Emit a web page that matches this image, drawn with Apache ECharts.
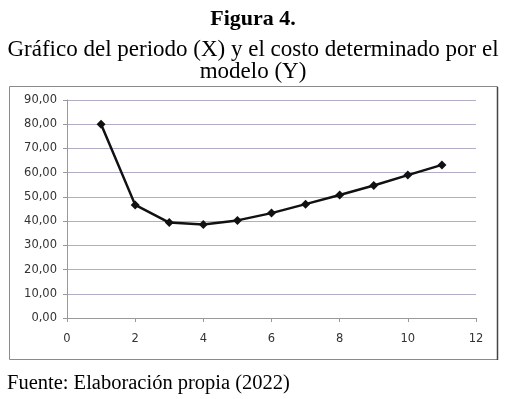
<!DOCTYPE html>
<html>
<head>
<meta charset="utf-8">
<script src="https://cdn.jsdelivr.net/npm/echarts@6/dist/echarts.min.js"></script>
<style>
  html, body { margin: 0; padding: 0; background: #fff; }
  #chart { width: 507px; height: 399px; }
</style>
</head>
<body>
<div id="chart"></div>
<script>
// periodo (X) y costo del modelo (Y)
var periodos = [1, 2, 3, 4, 5, 6, 7, 8, 9, 10, 11];
var costos = [80.0, 46.7, 39.4, 38.6, 40.3, 43.3, 47.0, 50.8, 54.7, 59.0, 63.2];

var puntos = [];
for (var i = 0; i < periodos.length; i++) {
    puntos.push([periodos[i], costos[i]]);
}

var chart = echarts.init(document.getElementById('chart'));
var serif = '"Liberation Serif", "Times New Roman", serif';
var option = {
    backgroundColor: '#fff',
    animation: false,
    title: [
        {
            text: 'Figura 4.',
            left: 248, top: 3, textAlign: 'center',
            textStyle: { fontFamily: serif, fontSize: 22, fontWeight: 'bold', color: '#000' }
        },
        {
            text: 'Gráfico del periodo (X) y el costo determinado por el\nmodelo (Y)',
            left: 248, top: 34, textAlign: 'center',
            textStyle: { fontFamily: serif, fontSize: 23, fontWeight: 'normal', color: '#000', lineHeight: 22 }
        },
        {
            text: 'Fuente: Elaboración propia (2022)',
            left: 2, top: 368,
            textStyle: { fontFamily: serif, fontSize: 20.5, fontWeight: 'normal', color: '#000' }
        }
    ],
    graphic: [
        {
            type: 'rect',
            shape: { x: 9.5, y: 86.5, width: 488, height: 273 },
            style: { fill: 'none', stroke: '#8a8a8a', lineWidth: 1 },
            z: -1
        },
        {
            type: 'line',
            shape: { x1: 497.5, y1: 87, x2: 497.5, y2: 360 },
            style: { stroke: '#444', lineWidth: 1.5 },
            z: -1
        }
    ],
    grid: { left: 67, right: 31, top: 100, bottom: 81 },
    xAxis: {
        type: 'value',
        min: 0, max: 12, interval: 2,
        axisLine: { show: true, onZero: false, lineStyle: { color: '#999', width: 1 } },
        axisTick: { show: true, length: 4, lineStyle: { color: '#999' } },
        splitLine: { show: false },
        axisLabel: { color: '#333', fontSize: 11.5, fontFamily: 'Verdana, "DejaVu Sans", sans-serif', margin: 15 }
    },
    yAxis: {
        type: 'value',
        min: 0, max: 90, interval: 10,
        axisLine: { show: true, lineStyle: { color: '#999', width: 1 } },
        axisTick: { show: true, length: 4, lineStyle: { color: '#999' } },
        splitLine: { show: true, lineStyle: { color: '#b4acc4', width: 1.2 } },
        axisLabel: {
            color: '#333', fontSize: 11.5, fontFamily: 'Verdana, "DejaVu Sans", sans-serif', margin: 10,
            formatter: function (v) { return v.toFixed(2).replace('.', ','); }
        }
    },
    series: [
        {
            type: 'line',
            data: puntos,
            symbol: 'diamond',
            symbolSize: 9,
            lineStyle: { color: '#111', width: 2.5 },
            itemStyle: { color: '#111' }
        }
    ]
};
chart.setOption(option);
</script>
</body>
</html>
